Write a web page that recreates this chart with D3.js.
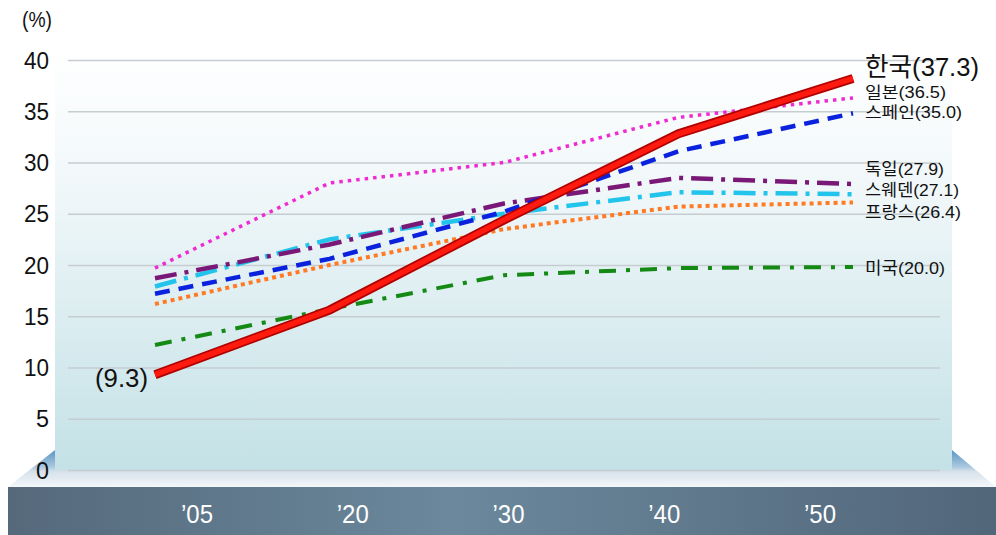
<!DOCTYPE html>
<html>
<head>
<meta charset="utf-8">
<script src="https://cdn.jsdelivr.net/npm/d3@7"></script>
<style>
  body { margin: 0; background: #fff; }
  text { font-family: "Liberation Sans", Arial, sans-serif; }
  .ko { font-family: "Liberation Sans", "Noto Sans CJK KR", sans-serif; }
</style>
</head>
<body>
<svg id="chart" width="996" height="535"></svg>
<script>
// data
var years = ["2005", "2020", "2030", "2040", "2050"];
var tickLabels = ["\u201905", "\u201920", "\u201930", "\u201940", "\u201950"];
var yTicks = [0, 5, 10, 15, 20, 25, 30, 35, 40];

var korea   = [9.3, 15.6, 24.4, 32.8, 38.2];
var japan   = [19.7, 28.0, 30.0, 34.4, 36.3];
var spain   = [17.2, 20.6, 25.2, 31.1, 34.8];
var germany = [18.7, 22.0, 26.0, 28.5, 27.9];
var sweden  = [17.9, 22.5, 25.0, 27.1, 26.9];
var france  = [16.2, 20.0, 23.5, 25.7, 26.1];
var usa     = [12.2, 15.7, 19.0, 19.7, 19.8];

var names  = ["미국", "프랑스", "스웨덴", "스페인", "독일", "일본", "한국"];
var labels = ["20.0", "26.4", "27.1", "35.0", "27.9", "36.5", "37.3"];

var svg = d3.select("#chart");
var defs = svg.append("defs");

var x = d3.scalePoint().domain(years).range([155, 853]);
var xLab = d3.scalePoint().domain(tickLabels).range([197, 820]);
var y = d3.scaleLinear().domain([0, 40]).range([470, 60]);

/* gradients */
var g1 = defs.append("linearGradient").attr("id", "panel").attr("x1", 0).attr("y1", 0).attr("x2", 0).attr("y2", 1);
g1.append("stop").attr("offset", "0%").attr("stop-color", "#ffffff");
g1.append("stop").attr("offset", "30%").attr("stop-color", "#f2f8fa");
g1.append("stop").attr("offset", "100%").attr("stop-color", "#c3e1e6");

var g2 = defs.append("linearGradient").attr("id", "floor").attr("x1", 0).attr("y1", 0).attr("x2", 0).attr("y2", 1);
g2.append("stop").attr("offset", "0%").attr("stop-color", "#5a94c4");
g2.append("stop").attr("offset", "45%").attr("stop-color", "#a9c8df");
g2.append("stop").attr("offset", "58%").attr("stop-color", "#d6e1ea");
g2.append("stop").attr("offset", "100%").attr("stop-color", "#f3f7fa");

var g3 = defs.append("linearGradient").attr("id", "base").attr("x1", 0).attr("y1", 0).attr("x2", 1).attr("y2", 0);
g3.append("stop").attr("offset", "0%").attr("stop-color", "#55697b");
g3.append("stop").attr("offset", "45%").attr("stop-color", "#6b889c");
g3.append("stop").attr("offset", "100%").attr("stop-color", "#52667a");

/* 3d floor, base bar and back panel */
svg.append("polygon")
  .attr("points", "55,450 952,450 996,487 8,487")
  .attr("fill", "url(#floor)");
svg.append("rect").attr("x", 8).attr("y", 487).attr("width", 988).attr("height", 48)
  .attr("fill", "url(#base)");
svg.append("rect").attr("x", 55).attr("y", 48).attr("width", 897).attr("height", 422)
  .attr("fill", "url(#panel)");

/* grid */
svg.append("g").selectAll("line").data(yTicks).enter().append("line")
  .attr("x1", 68).attr("x2", 940)
  .attr("y1", function(d) { return y(d) + 0.5 })
  .attr("y2", function(d) { return y(d) + 0.5 })
  .attr("stroke", "#c6cdd1").attr("stroke-width", 1.5);

/* y labels */
svg.append("g").selectAll("text").data(yTicks).enter().append("text")
  .attr("x", 49).attr("y", function(d) { return y(d) })
  .attr("dy", "0.36em").attr("text-anchor", "end")
  .attr("font-size", 24).attr("fill", "#111")
  .attr("textLength", function(d) { return d < 10 ? 13 : 25 })
  .attr("lengthAdjust", "spacingAndGlyphs")
  .text(function(d) { return d });
svg.append("text").attr("x", 22).attr("y", 27)
  .attr("font-size", 22).attr("fill", "#111")
  .attr("textLength", 30).attr("lengthAdjust", "spacingAndGlyphs")
  .text("(%)");

/* x labels */
svg.append("g").selectAll("text").data(tickLabels).enter().append("text")
  .attr("x", function(d) { return xLab(d) - 16 }).attr("y", 523)
  .attr("font-size", 26).attr("fill", "#fff")
  .attr("textLength", 32).attr("lengthAdjust", "spacingAndGlyphs")
  .text(function(d) { return d });

/* lines */
var line = d3.line()
  .x(function(d, i) { return x(years[i]) })
  .y(function(d) { return y(d) });

var series = [
  {v: usa,     color: "#148a14", w: 4,   dash: "17,10,4,10"},
  {v: france,  color: "#ff7a22", w: 4,   dash: "4,4"},
  {v: sweden,  color: "#22c4ec", w: 4.5, dash: "22,8,4,8"},
  {v: germany, color: "#7a1878", w: 4.5, dash: "22,8,4,8"},
  {v: spain,   color: "#0a22dd", w: 4.5, dash: "15,9"},
  {v: japan,   color: "#f02ad2", w: 3.5, dash: "3.5,5"}
];

svg.append("g").selectAll("path").data(series).enter().append("path")
  .attr("d", function(d) { return line(d.v) })
  .attr("fill", "none")
  .attr("stroke", function(d) { return d.color })
  .attr("stroke-width", function(d) { return d.w })
  .attr("stroke-dasharray", function(d) { return d.dash });

svg.append("path").attr("d", line(korea)).attr("fill", "none")
  .attr("stroke", "#b00000").attr("stroke-width", 9);
svg.append("path").attr("d", line(korea)).attr("fill", "none")
  .attr("stroke", "#ff1a10").attr("stroke-width", 5.5);

/* end labels */
var labelPos = [
  {y: 274, size: 17, len: 80},
  {y: 218, size: 17, len: 96},
  {y: 196, size: 17, len: 94},
  {y: 118, size: 16, len: 97},
  {y: 175, size: 17, len: 79},
  {y: 98,  size: 16, len: 81},
  {y: 76,  size: 26, len: 114}
];
svg.append("g").selectAll("text").data(names).enter().append("text")
  .attr("class", "ko")
  .attr("x", 865)
  .attr("y", function(d, i) { return labelPos[i].y })
  .attr("font-size", function(d, i) { return labelPos[i].size })
  .attr("textLength", function(d, i) { return labelPos[i].len })
  .attr("lengthAdjust", "spacingAndGlyphs")
  .attr("fill", "#111")
  .text(function(d, i) { return d + "(" + labels[i] + ")" });

svg.append("text").attr("x", 95).attr("y", y(korea[0]) + 12)
  .attr("font-size", 26).attr("fill", "#111")
  .attr("textLength", 53).attr("lengthAdjust", "spacingAndGlyphs")
  .text("(" + korea[0] + ")");
</script>
</body>
</html>
